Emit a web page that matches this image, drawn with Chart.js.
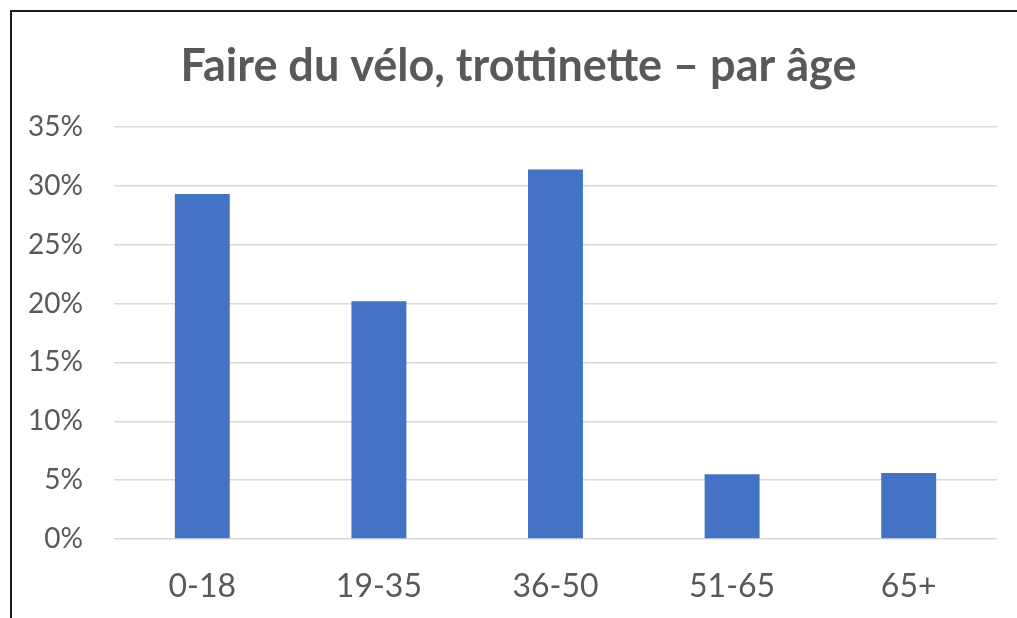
<!DOCTYPE html>
<html>
<head>
<meta charset="utf-8">
<script src="https://cdn.jsdelivr.net/npm/chart.js@4/dist/chart.umd.min.js"></script>
<style>
  html, body { margin: 0; padding: 0; background: #fff; overflow: hidden; }
  #wrap { position: relative; width: 1017px; height: 618px; overflow: hidden; }
  #frame { position: absolute; left: 10px; top: 10px; width: 2000px; height: 2000px; border-left: 2px solid #1a1a1a; border-top: 2px solid #1a1a1a; }
  canvas { position: absolute; left: 0; top: 0; }
</style>
</head>
<body>
<div id="wrap">
  <div id="frame"></div>
  <canvas id="myChart" width="1037" height="618"></canvas>
</div>
<script>
// valeurs (en %)
const ageGroups = ["0-18", "19-35", "36-50", "51-65", "65+"];
const cyclingShare = [29.3, 20.2, 31.4, 5.5, 5.6];
const yTicks = [0, 5, 10, 15, 20, 25, 30, 35];

// le titre est centré sur tout le cadre, pas seulement sur la zone du graphique
const shiftTitle = {
    id: "shiftTitle",
    afterLayout(chart) {
        if (chart.titleBlock) chart.titleBlock.left = 40;
    },
};

(function () {
    const ctx = document.getElementById("myChart");
    const grey = "#595959";
    new Chart(ctx, {
        type: "bar",
        data: {
            labels: ageGroups,
            datasets: [
                {
                    label: "Faire du vélo, trottinette",
                    data: cyclingShare,
                    backgroundColor: "#4472C4",
                    borderWidth: 0,
                    barPercentage: 0.311,
                    categoryPercentage: 1,
                },
            ],
        },
        options: {
            responsive: false,
            animation: false,
            layout: { padding: { left: 0, right: 40, top: 0, bottom: 0 } },
            plugins: {
                legend: { display: false },
                tooltip: { enabled: false },
                title: {
                    display: true,
                    text: "Faire du vélo, trottinette – par âge",
                    color: grey,
                    font: { family: "Lato", size: 45, weight: "bold", lineHeight: 1.2 },
                    padding: { top: 39, bottom: 34 },
                },
            },
            scales: {
                x: {
                    grid: { display: false, drawTicks: false },
                    border: { display: false },
                    ticks: {
                        color: grey,
                        padding: 28,
                        font: { family: "Lato", size: 32 },
                    },
                    afterFit: (s) => { s.height = 79; },
                },
                y: {
                    min: 0,
                    max: 35,
                    afterBuildTicks: (s) => { s.ticks = yTicks.map((v) => ({ value: v })); },
                    grid: { color: "#D9D9D9", lineWidth: 1.5, drawTicks: false },
                    border: { display: false },
                    ticks: {
                        color: grey,
                        padding: 31,
                        font: { family: "Lato", size: 28 },
                        callback: (v) => v + "%",
                    },
                    afterFit: (s) => { s.width = 114; },
                },
            },
        },
        plugins: [shiftTitle],
    });
})();
</script>
</body>
</html>
